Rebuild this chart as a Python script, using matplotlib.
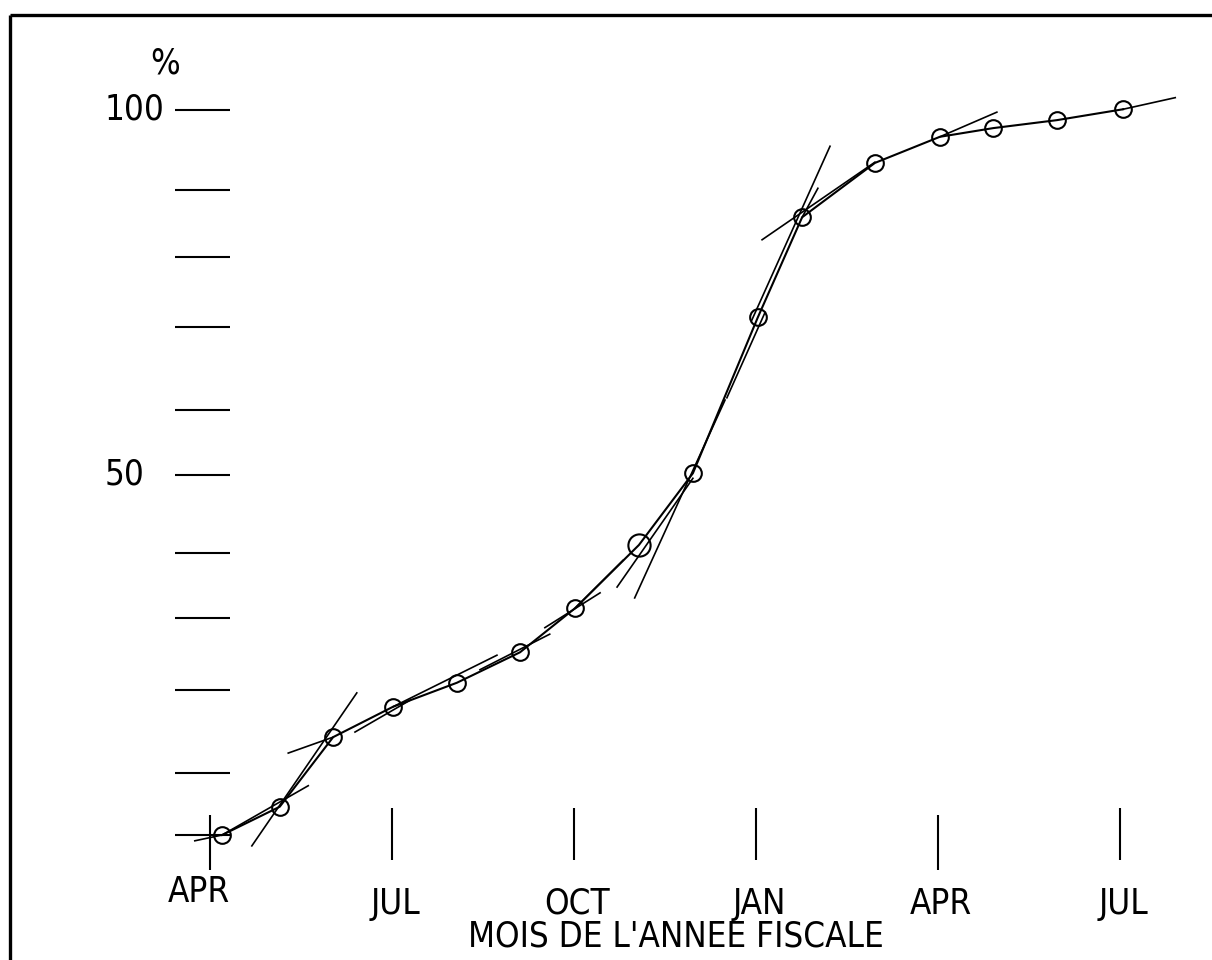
import matplotlib
matplotlib.use('Agg')
import matplotlib.pyplot as plt

# ---- data ----
months = [0.20, 1.15, 2.03, 3.02, 4.07, 5.11, 6.02, 7.07, 7.96, 9.03,
          9.76, 10.96, 12.03, 12.91, 13.96, 15.05]
percent = [0.0, 3.9, 13.5, 17.7, 21.0, 25.2, 31.3, 40.0, 49.9, 71.4,
           85.2, 92.7, 96.3, 97.5, 98.6, 100.1]
highlight_index = 7

# slope (tangent) segments: start/end in (month, percent)
tan_x0 = [-0.25, 0.20, 0.69, 1.29, 2.39, 3.02, 4.45, 5.52, 6.02, 6.71,
          7.00, 8.52, 8.93, 9.76, 9.10, 12.03, 15.05]
tan_y0 = [-0.8, 0.0, -1.5, 11.3, 14.2, 17.7, 22.8, 28.6, 31.3, 34.2,
          32.7, 60.3, 71.0, 85.2, 82.1, 96.3, 100.1]
tan_x1 = [0.20, 1.62, 2.42, 2.03, 3.30, 4.73, 5.60, 6.43, 6.81, 7.96,
          8.49, 9.15, 10.22, 10.02, 10.96, 12.97, 15.91]
tan_y1 = [0.0, 6.8, 19.6, 13.5, 18.6, 24.8, 27.7, 33.4, 37.9, 49.2,
          60.0, 72.1, 95.0, 89.2, 92.8, 99.7, 101.7]

month_ticks = [0, 3, 6, 9, 12, 15]
month_labels = ['APR', 'JUL', 'OCT', 'JAN', 'APR', 'JUL']
pct_ticks = [0, 8.6, 20, 30, 38.9, 49.7, 58.6, 70, 79.7, 89, 100]
pct_label_values = [49.7, 100]
pct_label_texts = ['50', '100']
x_title = "MOIS DE L'ANNEE FISCALE"
y_unit = '%'

# ---- figure ----
plt.rcParams['font.family'] = ['DejaVu Sans']
plt.rcParams['font.stretch'] = 'condensed'
fig = plt.figure(figsize=(12.12, 9.6), dpi=100)
ax = fig.add_axes([0, 0, 1, 1])
ax.set_xlim(-3.461, 16.516)
ax.set_ylim(-17.24, 115.17)
ax.axis('off')

FS = 25
TXT = dict(fontsize=FS, fontstretch='condensed')
LW = 1.5

# frame (top and left)
ax.plot([0.0083, 1.0], [0.9844, 0.9844], color='black', lw=2.4,
        transform=ax.transAxes, clip_on=False, solid_capstyle='butt')
ax.plot([0.0083, 0.0083], [0.0, 0.9844], color='black', lw=2.4,
        transform=ax.transAxes, clip_on=False, solid_capstyle='butt')

# y tick marks
ax.hlines(pct_ticks, -0.577, 0.33, colors='black', lw=LW)
for v, t in zip(pct_label_values, pct_label_texts):
    ax.text(-1.73, v, t, ha='left', va='center', **TXT)
ax.text(-0.74, 106.4, y_unit, ha='center', va='center', **TXT)

# x tick marks
for i, (m, lab) in enumerate(zip(month_ticks, month_labels)):
    if lab == 'APR':
        ax.vlines(m, -4.83, 2.76, colors='black', lw=LW)
    else:
        ax.vlines(m, -3.45, 3.72, colors='black', lw=LW)
    if i == 0:
        ax.text(-0.18, -7.8, lab, ha='center', va='center', **TXT)
    else:
        ax.text(m + 0.05, -9.5, lab, ha='center', va='center', **TXT)
ax.text(7.68, -13.95, x_title, ha='center', va='center', **TXT)

# tangent segments
for a, b, c, d in zip(tan_x0, tan_y0, tan_x1, tan_y1):
    ax.plot([a, c], [b, d], color='black', lw=1.2)

# main curve
ax.plot(months, percent, color='black', lw=LW)
small = [i for i in range(len(months)) if i != highlight_index]
ax.plot([months[i] for i in small], [percent[i] for i in small], 'o',
        ms=12, mfc='none', mec='black', mew=1.5)
ax.plot([months[highlight_index]], [percent[highlight_index]], 'o',
        ms=16, mfc='none', mec='black', mew=1.5)

fig.savefig('out.png', dpi=100, facecolor='white')
